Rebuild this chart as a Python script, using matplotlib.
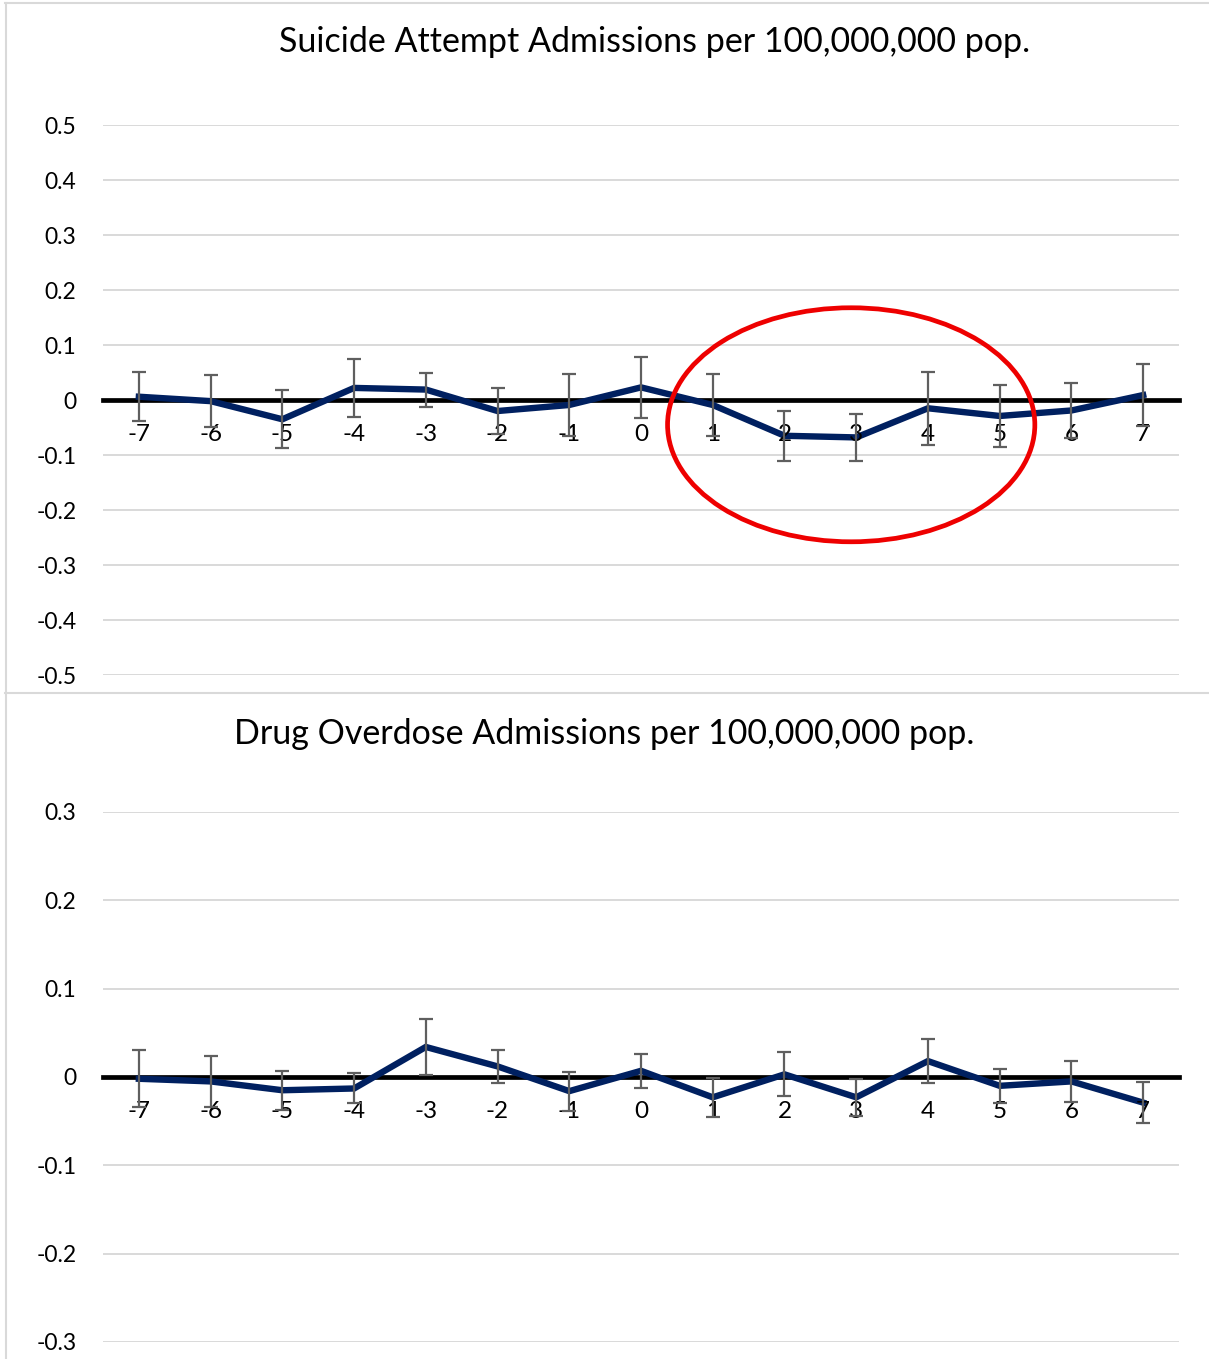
import numpy as np
from matplotlib import pyplot as plt
from matplotlib.patches import Ellipse
from matplotlib.lines import Line2D

plt.rcParams['font.family'] = ['Lato', 'DejaVu Sans']
plt.rcParams['axes.unicode_minus'] = False

# years relative to the event
years = list(range(-7, 8))

# suicide attempt admissions: estimate and error bar half-width
suicide_est = [0.006, -0.002, -0.035, 0.022, 0.019, -0.020, -0.009, 0.023,
               -0.009, -0.065, -0.068, -0.015, -0.029, -0.019, 0.009]
suicide_err = [0.045, 0.047, 0.053, 0.053, 0.031, 0.042, 0.056, 0.055,
               0.057, 0.045, 0.043, 0.066, 0.057, 0.050, 0.056]

# drug overdose admissions
overdose_est = [-0.002, -0.005, -0.015, -0.013, 0.034, 0.012, -0.016, 0.007,
                -0.023, 0.003, -0.023, 0.018, -0.010, -0.005, -0.029]
overdose_err = [0.032, 0.029, 0.022, 0.017, 0.032, 0.019, 0.022, 0.019,
                0.022, 0.025, 0.021, 0.025, 0.019, 0.023, 0.023]

top_title = "Suicide Attempt Admissions per 100,000,000 pop."
bottom_title = "Drug Overdose Admissions per 100,000,000 pop."
top_yticks = [0.5, 0.4, 0.3, 0.2, 0.1, 0, -0.1, -0.2, -0.3, -0.4, -0.5]
bottom_yticks = [0.3, 0.2, 0.1, 0, -0.1, -0.2, -0.3]

GRID = "#d9d9d9"
NAVY = "#002060"
ERR = "#5f5f5f"


def fmt(v):
    return "0" if v == 0 else "%.1f" % v


def draw_panel(ax, est, err, yticks):
    ax.set_xlim(-7.5, 7.5)
    ax.set_ylim(min(yticks), max(yticks))
    ax.set_yticks(yticks)
    ax.set_yticklabels([fmt(v) for v in yticks])
    ax.yaxis.grid(True, color=GRID, linewidth=1.4)
    ax.yaxis.set_zorder(0.5)
    for s in ["top", "right", "left"]:
        ax.spines[s].set_visible(False)
    # zero line with category labels hanging under it
    ax.spines["bottom"].set_position(("data", 0))
    ax.spines["bottom"].set_linewidth(3.4)
    ax.spines["bottom"].set_color("black")
    ax.spines["bottom"].set_zorder(2)
    ax.set_xticks(years)
    ax.set_xticklabels([str(y) for y in years])
    ax.tick_params(axis="x", length=0, pad=17, labelsize=17.5)
    ax.tick_params(axis="y", length=0, pad=19, labelsize=16.5)
    # labels sit over the line, under the error bars
    ax.xaxis.set_zorder(3.5)
    ax.plot(years, est, color=NAVY, linewidth=4.6, zorder=3, solid_joinstyle="miter")
    ax.errorbar(years, est, yerr=err, fmt="none", ecolor=ERR, elinewidth=1.6,
                capsize=5, capthick=1.6, zorder=4)


fig = plt.figure(figsize=(12.09, 13.59), dpi=100)
ax1 = fig.add_axes([0.0852, 0.5033, 0.89, 0.4047])
ax2 = fig.add_axes([0.0852, 0.01251, 0.89, 0.39])
draw_panel(ax1, suicide_est, suicide_err, top_yticks)
draw_panel(ax2, overdose_est, overdose_err, bottom_yticks)

# circle round years 1-5
ax1.add_patch(Ellipse((2.93, -0.045), 5.12, 0.4255, fill=False,
                      edgecolor="#ee0000", linewidth=3.4, zorder=5))

fig.text(655 / 1209, 1 - 42 / 1359, top_title, ha="center", va="center", fontsize=24.5)
fig.text(604 / 1209, 1 - 734 / 1359, bottom_title, ha="center", va="center", fontsize=24.5)

# chart borders
fig.add_artist(Line2D([5 / 1209, 1], [1 - 3 / 1359] * 2, color=GRID, linewidth=1.5))
fig.add_artist(Line2D([6 / 1209] * 2, [0, 1 - 3 / 1359], color=GRID, linewidth=1.5))
fig.add_artist(Line2D([5 / 1209, 1], [1 - 693 / 1359] * 2, color=GRID, linewidth=1.5))

fig.savefig("out.png", dpi=100)
